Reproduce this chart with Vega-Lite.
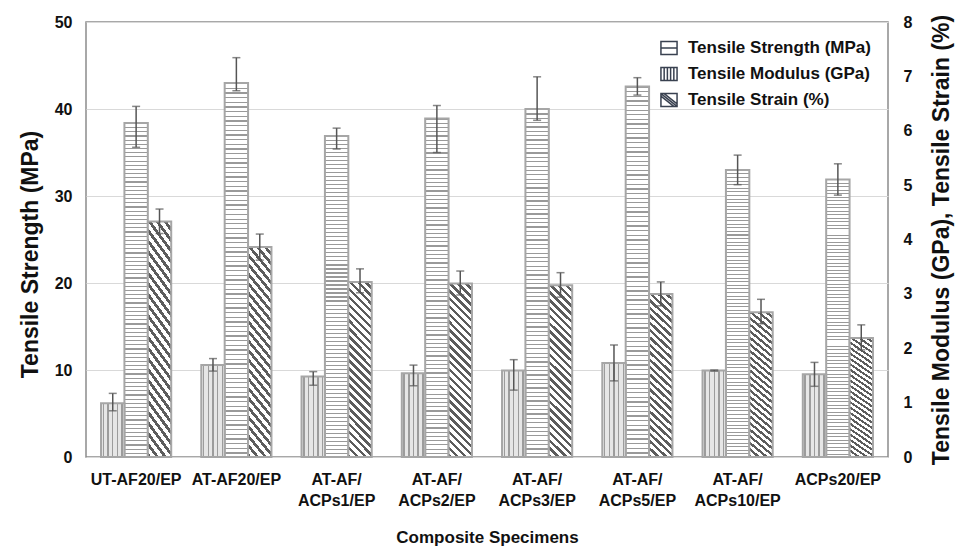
{
  "$schema": "https://vega.github.io/schema/vega-lite/v6.json",
  "width": 802,
  "height": 435,
  "autosize": {"type": "none"},
  "padding": {"left": 86, "top": 22, "right": 72, "bottom": 95},
  "background": "white",
  "config": {
    "view": {"stroke": "#8c8c8c", "strokeWidth": 1.5},
    "font": "Liberation Sans",
    "axis": {
      "labelFont": "Liberation Sans", "labelFontWeight": "bold", "labelFontSize": 16, "labelColor": "#111",
      "titleFont": "Liberation Sans", "titleFontWeight": "bold", "titleColor": "#111",
      "ticks": false, "domain": false, "gridColor": "#d9d9d9", "gridWidth": 1.2
    }
  },
  "data": {"values": [
    {"specimen": "UT-AF20/EP", "measure": "Tensile Modulus (GPa)", "value": 0.99, "lo": 0.85, "hi": 1.17},
    {"specimen": "UT-AF20/EP", "measure": "Tensile Strength (MPa)", "value": 38.4, "lo": 35.6, "hi": 40.3},
    {"specimen": "UT-AF20/EP", "measure": "Tensile Strain (%)", "value": 4.33, "lo": 4.11, "hi": 4.56},
    {"specimen": "AT-AF20/EP", "measure": "Tensile Modulus (GPa)", "value": 1.69, "lo": 1.58, "hi": 1.81},
    {"specimen": "AT-AF20/EP", "measure": "Tensile Strength (MPa)", "value": 43.0, "lo": 42.1, "hi": 45.9},
    {"specimen": "AT-AF20/EP", "measure": "Tensile Strain (%)", "value": 3.86, "lo": 3.62, "hi": 4.10},
    {"specimen": "AT-AF/ACPs1/EP", "measure": "Tensile Modulus (GPa)", "value": 1.48, "lo": 1.32, "hi": 1.57},
    {"specimen": "AT-AF/ACPs1/EP", "measure": "Tensile Strength (MPa)", "value": 36.9, "lo": 35.4, "hi": 37.8},
    {"specimen": "AT-AF/ACPs1/EP", "measure": "Tensile Strain (%)", "value": 3.22, "lo": 3.02, "hi": 3.46},
    {"specimen": "AT-AF/ACPs2/EP", "measure": "Tensile Modulus (GPa)", "value": 1.54, "lo": 1.31, "hi": 1.69},
    {"specimen": "AT-AF/ACPs2/EP", "measure": "Tensile Strength (MPa)", "value": 38.9, "lo": 35.0, "hi": 40.4},
    {"specimen": "AT-AF/ACPs2/EP", "measure": "Tensile Strain (%)", "value": 3.19, "lo": 2.98, "hi": 3.42},
    {"specimen": "AT-AF/ACPs3/EP", "measure": "Tensile Modulus (GPa)", "value": 1.59, "lo": 1.23, "hi": 1.79},
    {"specimen": "AT-AF/ACPs3/EP", "measure": "Tensile Strength (MPa)", "value": 40.0, "lo": 38.7, "hi": 43.7},
    {"specimen": "AT-AF/ACPs3/EP", "measure": "Tensile Strain (%)", "value": 3.16, "lo": 2.94, "hi": 3.39},
    {"specimen": "AT-AF/ACPs5/EP", "measure": "Tensile Modulus (GPa)", "value": 1.73, "lo": 1.40, "hi": 2.06},
    {"specimen": "AT-AF/ACPs5/EP", "measure": "Tensile Strength (MPa)", "value": 42.6, "lo": 41.6, "hi": 43.6},
    {"specimen": "AT-AF/ACPs5/EP", "measure": "Tensile Strain (%)", "value": 3.00, "lo": 2.78, "hi": 3.22},
    {"specimen": "AT-AF/ACPs10/EP", "measure": "Tensile Modulus (GPa)", "value": 1.59, "lo": 1.58, "hi": 1.60},
    {"specimen": "AT-AF/ACPs10/EP", "measure": "Tensile Strength (MPa)", "value": 33.0, "lo": 31.3, "hi": 34.7},
    {"specimen": "AT-AF/ACPs10/EP", "measure": "Tensile Strain (%)", "value": 2.66, "lo": 2.45, "hi": 2.90},
    {"specimen": "ACPs20/EP", "measure": "Tensile Modulus (GPa)", "value": 1.52, "lo": 1.30, "hi": 1.74},
    {"specimen": "ACPs20/EP", "measure": "Tensile Strength (MPa)", "value": 31.9, "lo": 30.1, "hi": 33.7},
    {"specimen": "ACPs20/EP", "measure": "Tensile Strain (%)", "value": 2.19, "lo": 1.97, "hi": 2.43}
  ]},
  "encoding": {
    "x": {
      "field": "specimen", "type": "nominal", "sort": null,
      "scale": {"type": "band", "domain": ["UT-AF20/EP", "AT-AF20/EP", "AT-AF/ACPs1/EP", "AT-AF/ACPs2/EP", "AT-AF/ACPs3/EP", "AT-AF/ACPs5/EP", "AT-AF/ACPs10/EP", "ACPs20/EP"], "paddingInner": 0.3, "paddingOuter": 0.15},
      "axis": {
        "title": "Composite Specimens", "titleFontSize": 17, "titlePadding": 21,
        "labelAngle": 0, "labelBaseline": "middle", "labelPadding": 22, "labelLineHeight": 21,
        "labelExpr": "indexof(datum.label, 'AT-AF/ACP') === 0 ? [datum.label === 'AT-AF/ACPs10/EP' ? 'AT-AF/\u00a0\u00a0\u00a0\u00a0\u00a0\u00a0\u00a0\u00a0' : 'AT-AF/\u00a0\u00a0\u00a0\u00a0\u00a0\u00a0', substring(datum.label, 6)] : datum.label"
      }
    },
    "xOffset": {
      "field": "measure", "type": "nominal", "sort": null,
      "scale": {"type": "band", "domain": ["Tensile Modulus (GPa)", "Tensile Strength (MPa)", "Tensile Strain (%)"], "paddingInner": 0, "paddingOuter": 0}
    }
  },
  "layer": [
    {
      "transform": [{"filter": "datum.measure === 'Tensile Strength (MPa)'"}],
      "layer": [
        {
          "mark": {"type": "bar", "stroke": "#a6a6a6", "strokeWidth": 2, "fill": {"gradient": "linear", "x1": 0, "y1": 0, "x2": 0, "y2": 1, "stops": [
            {"offset":0,"color":"#999"},{"offset":0.0035,"color":"#999"},{"offset":0.0035,"color":"#fff"},{"offset":0.0125,"color":"#fff"},
            {"offset":0.0125,"color":"#999"},{"offset":0.016,"color":"#999"},{"offset":0.016,"color":"#fff"},{"offset":0.025,"color":"#fff"},
            {"offset":0.025,"color":"#999"},{"offset":0.0285,"color":"#999"},{"offset":0.0285,"color":"#fff"},{"offset":0.0375,"color":"#fff"},
            {"offset":0.0375,"color":"#999"},{"offset":0.041,"color":"#999"},{"offset":0.041,"color":"#fff"},{"offset":0.05,"color":"#fff"},
            {"offset":0.05,"color":"#999"},{"offset":0.0535,"color":"#999"},{"offset":0.0535,"color":"#fff"},{"offset":0.0625,"color":"#fff"},
            {"offset":0.0625,"color":"#999"},{"offset":0.066,"color":"#999"},{"offset":0.066,"color":"#fff"},{"offset":0.075,"color":"#fff"},
            {"offset":0.075,"color":"#999"},{"offset":0.0785,"color":"#999"},{"offset":0.0785,"color":"#fff"},{"offset":0.0875,"color":"#fff"},
            {"offset":0.0875,"color":"#999"},{"offset":0.091,"color":"#999"},{"offset":0.091,"color":"#fff"},{"offset":0.1,"color":"#fff"},
            {"offset":0.1,"color":"#999"},{"offset":0.1035,"color":"#999"},{"offset":0.1035,"color":"#fff"},{"offset":0.1125,"color":"#fff"},
            {"offset":0.1125,"color":"#999"},{"offset":0.116,"color":"#999"},{"offset":0.116,"color":"#fff"},{"offset":0.125,"color":"#fff"},
            {"offset":0.125,"color":"#999"},{"offset":0.1285,"color":"#999"},{"offset":0.1285,"color":"#fff"},{"offset":0.1375,"color":"#fff"},
            {"offset":0.1375,"color":"#999"},{"offset":0.141,"color":"#999"},{"offset":0.141,"color":"#fff"},{"offset":0.15,"color":"#fff"},
            {"offset":0.15,"color":"#999"},{"offset":0.1535,"color":"#999"},{"offset":0.1535,"color":"#fff"},{"offset":0.1625,"color":"#fff"},
            {"offset":0.1625,"color":"#999"},{"offset":0.166,"color":"#999"},{"offset":0.166,"color":"#fff"},{"offset":0.175,"color":"#fff"},
            {"offset":0.175,"color":"#999"},{"offset":0.1785,"color":"#999"},{"offset":0.1785,"color":"#fff"},{"offset":0.1875,"color":"#fff"},
            {"offset":0.1875,"color":"#999"},{"offset":0.191,"color":"#999"},{"offset":0.191,"color":"#fff"},{"offset":0.2,"color":"#fff"},
            {"offset":0.2,"color":"#999"},{"offset":0.2035,"color":"#999"},{"offset":0.2035,"color":"#fff"},{"offset":0.2125,"color":"#fff"},
            {"offset":0.2125,"color":"#999"},{"offset":0.216,"color":"#999"},{"offset":0.216,"color":"#fff"},{"offset":0.225,"color":"#fff"},
            {"offset":0.225,"color":"#999"},{"offset":0.2285,"color":"#999"},{"offset":0.2285,"color":"#fff"},{"offset":0.2375,"color":"#fff"},
            {"offset":0.2375,"color":"#999"},{"offset":0.241,"color":"#999"},{"offset":0.241,"color":"#fff"},{"offset":0.25,"color":"#fff"},
            {"offset":0.25,"color":"#999"},{"offset":0.2535,"color":"#999"},{"offset":0.2535,"color":"#fff"},{"offset":0.2625,"color":"#fff"},
            {"offset":0.2625,"color":"#999"},{"offset":0.266,"color":"#999"},{"offset":0.266,"color":"#fff"},{"offset":0.275,"color":"#fff"},
            {"offset":0.275,"color":"#999"},{"offset":0.2785,"color":"#999"},{"offset":0.2785,"color":"#fff"},{"offset":0.2875,"color":"#fff"},
            {"offset":0.2875,"color":"#999"},{"offset":0.291,"color":"#999"},{"offset":0.291,"color":"#fff"},{"offset":0.3,"color":"#fff"},
            {"offset":0.3,"color":"#999"},{"offset":0.3035,"color":"#999"},{"offset":0.3035,"color":"#fff"},{"offset":0.3125,"color":"#fff"},
            {"offset":0.3125,"color":"#999"},{"offset":0.316,"color":"#999"},{"offset":0.316,"color":"#fff"},{"offset":0.325,"color":"#fff"},
            {"offset":0.325,"color":"#999"},{"offset":0.3285,"color":"#999"},{"offset":0.3285,"color":"#fff"},{"offset":0.3375,"color":"#fff"},
            {"offset":0.3375,"color":"#999"},{"offset":0.341,"color":"#999"},{"offset":0.341,"color":"#fff"},{"offset":0.35,"color":"#fff"},
            {"offset":0.35,"color":"#999"},{"offset":0.3535,"color":"#999"},{"offset":0.3535,"color":"#fff"},{"offset":0.3625,"color":"#fff"},
            {"offset":0.3625,"color":"#999"},{"offset":0.366,"color":"#999"},{"offset":0.366,"color":"#fff"},{"offset":0.375,"color":"#fff"},
            {"offset":0.375,"color":"#999"},{"offset":0.3785,"color":"#999"},{"offset":0.3785,"color":"#fff"},{"offset":0.3875,"color":"#fff"},
            {"offset":0.3875,"color":"#999"},{"offset":0.391,"color":"#999"},{"offset":0.391,"color":"#fff"},{"offset":0.4,"color":"#fff"},
            {"offset":0.4,"color":"#999"},{"offset":0.4035,"color":"#999"},{"offset":0.4035,"color":"#fff"},{"offset":0.4125,"color":"#fff"},
            {"offset":0.4125,"color":"#999"},{"offset":0.416,"color":"#999"},{"offset":0.416,"color":"#fff"},{"offset":0.425,"color":"#fff"},
            {"offset":0.425,"color":"#999"},{"offset":0.4285,"color":"#999"},{"offset":0.4285,"color":"#fff"},{"offset":0.4375,"color":"#fff"},
            {"offset":0.4375,"color":"#999"},{"offset":0.441,"color":"#999"},{"offset":0.441,"color":"#fff"},{"offset":0.45,"color":"#fff"},
            {"offset":0.45,"color":"#999"},{"offset":0.4535,"color":"#999"},{"offset":0.4535,"color":"#fff"},{"offset":0.4625,"color":"#fff"},
            {"offset":0.4625,"color":"#999"},{"offset":0.466,"color":"#999"},{"offset":0.466,"color":"#fff"},{"offset":0.475,"color":"#fff"},
            {"offset":0.475,"color":"#999"},{"offset":0.4785,"color":"#999"},{"offset":0.4785,"color":"#fff"},{"offset":0.4875,"color":"#fff"},
            {"offset":0.4875,"color":"#999"},{"offset":0.491,"color":"#999"},{"offset":0.491,"color":"#fff"},{"offset":0.5,"color":"#fff"},
            {"offset":0.5,"color":"#999"},{"offset":0.5035,"color":"#999"},{"offset":0.5035,"color":"#fff"},{"offset":0.5125,"color":"#fff"},
            {"offset":0.5125,"color":"#999"},{"offset":0.516,"color":"#999"},{"offset":0.516,"color":"#fff"},{"offset":0.525,"color":"#fff"},
            {"offset":0.525,"color":"#999"},{"offset":0.5285,"color":"#999"},{"offset":0.5285,"color":"#fff"},{"offset":0.5375,"color":"#fff"},
            {"offset":0.5375,"color":"#999"},{"offset":0.541,"color":"#999"},{"offset":0.541,"color":"#fff"},{"offset":0.55,"color":"#fff"},
            {"offset":0.55,"color":"#999"},{"offset":0.5535,"color":"#999"},{"offset":0.5535,"color":"#fff"},{"offset":0.5625,"color":"#fff"},
            {"offset":0.5625,"color":"#999"},{"offset":0.566,"color":"#999"},{"offset":0.566,"color":"#fff"},{"offset":0.575,"color":"#fff"},
            {"offset":0.575,"color":"#999"},{"offset":0.5785,"color":"#999"},{"offset":0.5785,"color":"#fff"},{"offset":0.5875,"color":"#fff"},
            {"offset":0.5875,"color":"#999"},{"offset":0.591,"color":"#999"},{"offset":0.591,"color":"#fff"},{"offset":0.6,"color":"#fff"},
            {"offset":0.6,"color":"#999"},{"offset":0.6035,"color":"#999"},{"offset":0.6035,"color":"#fff"},{"offset":0.6125,"color":"#fff"},
            {"offset":0.6125,"color":"#999"},{"offset":0.616,"color":"#999"},{"offset":0.616,"color":"#fff"},{"offset":0.625,"color":"#fff"},
            {"offset":0.625,"color":"#999"},{"offset":0.6285,"color":"#999"},{"offset":0.6285,"color":"#fff"},{"offset":0.6375,"color":"#fff"},
            {"offset":0.6375,"color":"#999"},{"offset":0.641,"color":"#999"},{"offset":0.641,"color":"#fff"},{"offset":0.65,"color":"#fff"},
            {"offset":0.65,"color":"#999"},{"offset":0.6535,"color":"#999"},{"offset":0.6535,"color":"#fff"},{"offset":0.6625,"color":"#fff"},
            {"offset":0.6625,"color":"#999"},{"offset":0.666,"color":"#999"},{"offset":0.666,"color":"#fff"},{"offset":0.675,"color":"#fff"},
            {"offset":0.675,"color":"#999"},{"offset":0.6785,"color":"#999"},{"offset":0.6785,"color":"#fff"},{"offset":0.6875,"color":"#fff"},
            {"offset":0.6875,"color":"#999"},{"offset":0.691,"color":"#999"},{"offset":0.691,"color":"#fff"},{"offset":0.7,"color":"#fff"},
            {"offset":0.7,"color":"#999"},{"offset":0.7035,"color":"#999"},{"offset":0.7035,"color":"#fff"},{"offset":0.7125,"color":"#fff"},
            {"offset":0.7125,"color":"#999"},{"offset":0.716,"color":"#999"},{"offset":0.716,"color":"#fff"},{"offset":0.725,"color":"#fff"},
            {"offset":0.725,"color":"#999"},{"offset":0.7285,"color":"#999"},{"offset":0.7285,"color":"#fff"},{"offset":0.7375,"color":"#fff"},
            {"offset":0.7375,"color":"#999"},{"offset":0.741,"color":"#999"},{"offset":0.741,"color":"#fff"},{"offset":0.75,"color":"#fff"},
            {"offset":0.75,"color":"#999"},{"offset":0.7535,"color":"#999"},{"offset":0.7535,"color":"#fff"},{"offset":0.7625,"color":"#fff"},
            {"offset":0.7625,"color":"#999"},{"offset":0.766,"color":"#999"},{"offset":0.766,"color":"#fff"},{"offset":0.775,"color":"#fff"},
            {"offset":0.775,"color":"#999"},{"offset":0.7785,"color":"#999"},{"offset":0.7785,"color":"#fff"},{"offset":0.7875,"color":"#fff"},
            {"offset":0.7875,"color":"#999"},{"offset":0.791,"color":"#999"},{"offset":0.791,"color":"#fff"},{"offset":0.8,"color":"#fff"},
            {"offset":0.8,"color":"#999"},{"offset":0.8035,"color":"#999"},{"offset":0.8035,"color":"#fff"},{"offset":0.8125,"color":"#fff"},
            {"offset":0.8125,"color":"#999"},{"offset":0.816,"color":"#999"},{"offset":0.816,"color":"#fff"},{"offset":0.825,"color":"#fff"},
            {"offset":0.825,"color":"#999"},{"offset":0.8285,"color":"#999"},{"offset":0.8285,"color":"#fff"},{"offset":0.8375,"color":"#fff"},
            {"offset":0.8375,"color":"#999"},{"offset":0.841,"color":"#999"},{"offset":0.841,"color":"#fff"},{"offset":0.85,"color":"#fff"},
            {"offset":0.85,"color":"#999"},{"offset":0.8535,"color":"#999"},{"offset":0.8535,"color":"#fff"},{"offset":0.8625,"color":"#fff"},
            {"offset":0.8625,"color":"#999"},{"offset":0.866,"color":"#999"},{"offset":0.866,"color":"#fff"},{"offset":0.875,"color":"#fff"},
            {"offset":0.875,"color":"#999"},{"offset":0.8785,"color":"#999"},{"offset":0.8785,"color":"#fff"},{"offset":0.8875,"color":"#fff"},
            {"offset":0.8875,"color":"#999"},{"offset":0.891,"color":"#999"},{"offset":0.891,"color":"#fff"},{"offset":0.9,"color":"#fff"},
            {"offset":0.9,"color":"#999"},{"offset":0.9035,"color":"#999"},{"offset":0.9035,"color":"#fff"},{"offset":0.9125,"color":"#fff"},
            {"offset":0.9125,"color":"#999"},{"offset":0.916,"color":"#999"},{"offset":0.916,"color":"#fff"},{"offset":0.925,"color":"#fff"},
            {"offset":0.925,"color":"#999"},{"offset":0.9285,"color":"#999"},{"offset":0.9285,"color":"#fff"},{"offset":0.9375,"color":"#fff"},
            {"offset":0.9375,"color":"#999"},{"offset":0.941,"color":"#999"},{"offset":0.941,"color":"#fff"},{"offset":0.95,"color":"#fff"},
            {"offset":0.95,"color":"#999"},{"offset":0.9535,"color":"#999"},{"offset":0.9535,"color":"#fff"},{"offset":0.9625,"color":"#fff"},
            {"offset":0.9625,"color":"#999"},{"offset":0.966,"color":"#999"},{"offset":0.966,"color":"#fff"},{"offset":0.975,"color":"#fff"},
            {"offset":0.975,"color":"#999"},{"offset":0.9785,"color":"#999"},{"offset":0.9785,"color":"#fff"},{"offset":0.9875,"color":"#fff"},
            {"offset":0.9875,"color":"#999"},{"offset":0.991,"color":"#999"},{"offset":0.991,"color":"#fff"},{"offset":1,"color":"#fff"}
          ]}},
          "encoding": {
            "y": {"field": "value", "type": "quantitative", "scale": {"domain": [0, 50], "nice": false},
                  "axis": {"orient": "left", "values": [0, 10, 20, 30, 40, 50], "title": "Tensile Strength (MPa)", "titleFontSize": 23, "labelPadding": 14, "titlePadding": 12, "titleY": 232, "grid": true}}
          }
        },
        {
          "mark": {"type": "rule", "color": "#555", "strokeWidth": 1.5},
          "encoding": {
            "y": {"field": "lo", "type": "quantitative", "scale": {"domain": [0, 50], "nice": false}, "title": "Tensile Strength (MPa)"},
            "y2": {"field": "hi"}
          }
        },
        {
          "mark": {"type": "tick", "color": "#555", "thickness": 1.5, "size": 8},
          "encoding": {"y": {"field": "hi", "type": "quantitative", "scale": {"domain": [0, 50], "nice": false}, "title": "Tensile Strength (MPa)"}}
        },
        {
          "mark": {"type": "tick", "color": "#555", "thickness": 1.5, "size": 8},
          "encoding": {"y": {"field": "lo", "type": "quantitative", "scale": {"domain": [0, 50], "nice": false}, "title": "Tensile Strength (MPa)"}}
        }
      ]
    },
    {
      "transform": [{"filter": "datum.measure !== 'Tensile Strength (MPa)'"}],
      "layer": [
        {
          "transform": [{"filter": "datum.measure === 'Tensile Modulus (GPa)'"}],
          "mark": {"type": "bar", "stroke": "#a6a6a6", "strokeWidth": 2, "fill": {"gradient": "linear", "x1": 0, "y1": 0, "x2": 1, "y2": 0, "stops": [
            {"offset":0,"color":"#e6e6e6"},{"offset":0.07,"color":"#e6e6e6"},{"offset":0.07,"color":"#9c9c9c"},{"offset":0.13,"color":"#9c9c9c"},{"offset":0.13,"color":"#e6e6e6"},
            {"offset":0.27,"color":"#e6e6e6"},{"offset":0.27,"color":"#9c9c9c"},{"offset":0.33,"color":"#9c9c9c"},{"offset":0.33,"color":"#e6e6e6"},
            {"offset":0.47,"color":"#e6e6e6"},{"offset":0.47,"color":"#9c9c9c"},{"offset":0.53,"color":"#9c9c9c"},{"offset":0.53,"color":"#e6e6e6"},
            {"offset":0.67,"color":"#e6e6e6"},{"offset":0.67,"color":"#9c9c9c"},{"offset":0.73,"color":"#9c9c9c"},{"offset":0.73,"color":"#e6e6e6"},
            {"offset":0.87,"color":"#e6e6e6"},{"offset":0.87,"color":"#9c9c9c"},{"offset":0.93,"color":"#9c9c9c"},{"offset":0.93,"color":"#e6e6e6"},{"offset":1,"color":"#e6e6e6"}
          ]}},
          "encoding": {
            "y": {"field": "value", "type": "quantitative", "scale": {"domain": [0, 8], "nice": false},
                  "axis": {"orient": "right", "values": [0, 1, 2, 3, 4, 5, 6, 7, 8], "title": "Tensile Modulus (GPa), Tensile Strain (%)", "titleFontSize": 23, "titleAngle": -90, "titleBaseline": "top", "labelPadding": 15, "titlePadding": 19, "grid": false}}
          }
        },
        {
          "transform": [{"filter": "datum.measure === 'Tensile Strain (%)'"}],
          "mark": {"type": "bar", "stroke": "#a6a6a6", "strokeWidth": 2, "fill": {"gradient": "linear", "x1": 0, "y1": 1, "x2": 0.1506, "y2": -0.1148, "stops": [
            {"offset":0,"color":"#5c5c5c"},{"offset":0.018,"color":"#5c5c5c"},{"offset":0.018,"color":"#fff"},{"offset":0.04,"color":"#fff"},
            {"offset":0.04,"color":"#5c5c5c"},{"offset":0.058,"color":"#5c5c5c"},{"offset":0.058,"color":"#fff"},{"offset":0.08,"color":"#fff"},
            {"offset":0.08,"color":"#5c5c5c"},{"offset":0.098,"color":"#5c5c5c"},{"offset":0.098,"color":"#fff"},{"offset":0.12,"color":"#fff"},
            {"offset":0.12,"color":"#5c5c5c"},{"offset":0.138,"color":"#5c5c5c"},{"offset":0.138,"color":"#fff"},{"offset":0.16,"color":"#fff"},
            {"offset":0.16,"color":"#5c5c5c"},{"offset":0.178,"color":"#5c5c5c"},{"offset":0.178,"color":"#fff"},{"offset":0.2,"color":"#fff"},
            {"offset":0.2,"color":"#5c5c5c"},{"offset":0.218,"color":"#5c5c5c"},{"offset":0.218,"color":"#fff"},{"offset":0.24,"color":"#fff"},
            {"offset":0.24,"color":"#5c5c5c"},{"offset":0.258,"color":"#5c5c5c"},{"offset":0.258,"color":"#fff"},{"offset":0.28,"color":"#fff"},
            {"offset":0.28,"color":"#5c5c5c"},{"offset":0.298,"color":"#5c5c5c"},{"offset":0.298,"color":"#fff"},{"offset":0.32,"color":"#fff"},
            {"offset":0.32,"color":"#5c5c5c"},{"offset":0.338,"color":"#5c5c5c"},{"offset":0.338,"color":"#fff"},{"offset":0.36,"color":"#fff"},
            {"offset":0.36,"color":"#5c5c5c"},{"offset":0.378,"color":"#5c5c5c"},{"offset":0.378,"color":"#fff"},{"offset":0.4,"color":"#fff"},
            {"offset":0.4,"color":"#5c5c5c"},{"offset":0.418,"color":"#5c5c5c"},{"offset":0.418,"color":"#fff"},{"offset":0.44,"color":"#fff"},
            {"offset":0.44,"color":"#5c5c5c"},{"offset":0.458,"color":"#5c5c5c"},{"offset":0.458,"color":"#fff"},{"offset":0.48,"color":"#fff"},
            {"offset":0.48,"color":"#5c5c5c"},{"offset":0.498,"color":"#5c5c5c"},{"offset":0.498,"color":"#fff"},{"offset":0.52,"color":"#fff"},
            {"offset":0.52,"color":"#5c5c5c"},{"offset":0.538,"color":"#5c5c5c"},{"offset":0.538,"color":"#fff"},{"offset":0.56,"color":"#fff"},
            {"offset":0.56,"color":"#5c5c5c"},{"offset":0.578,"color":"#5c5c5c"},{"offset":0.578,"color":"#fff"},{"offset":0.6,"color":"#fff"},
            {"offset":0.6,"color":"#5c5c5c"},{"offset":0.618,"color":"#5c5c5c"},{"offset":0.618,"color":"#fff"},{"offset":0.64,"color":"#fff"},
            {"offset":0.64,"color":"#5c5c5c"},{"offset":0.658,"color":"#5c5c5c"},{"offset":0.658,"color":"#fff"},{"offset":0.68,"color":"#fff"},
            {"offset":0.68,"color":"#5c5c5c"},{"offset":0.698,"color":"#5c5c5c"},{"offset":0.698,"color":"#fff"},{"offset":0.72,"color":"#fff"},
            {"offset":0.72,"color":"#5c5c5c"},{"offset":0.738,"color":"#5c5c5c"},{"offset":0.738,"color":"#fff"},{"offset":0.76,"color":"#fff"},
            {"offset":0.76,"color":"#5c5c5c"},{"offset":0.778,"color":"#5c5c5c"},{"offset":0.778,"color":"#fff"},{"offset":0.8,"color":"#fff"},
            {"offset":0.8,"color":"#5c5c5c"},{"offset":0.818,"color":"#5c5c5c"},{"offset":0.818,"color":"#fff"},{"offset":0.84,"color":"#fff"},
            {"offset":0.84,"color":"#5c5c5c"},{"offset":0.858,"color":"#5c5c5c"},{"offset":0.858,"color":"#fff"},{"offset":0.88,"color":"#fff"},
            {"offset":0.88,"color":"#5c5c5c"},{"offset":0.898,"color":"#5c5c5c"},{"offset":0.898,"color":"#fff"},{"offset":0.92,"color":"#fff"},
            {"offset":0.92,"color":"#5c5c5c"},{"offset":0.938,"color":"#5c5c5c"},{"offset":0.938,"color":"#fff"},{"offset":0.96,"color":"#fff"},
            {"offset":0.96,"color":"#5c5c5c"},{"offset":0.978,"color":"#5c5c5c"},{"offset":0.978,"color":"#fff"},{"offset":1,"color":"#fff"}
          ]}},
          "encoding": {
            "y": {"field": "value", "type": "quantitative", "scale": {"domain": [0, 8], "nice": false}, "title": "Tensile Modulus (GPa), Tensile Strain (%)"}
          }
        },
        {
          "mark": {"type": "rule", "color": "#555", "strokeWidth": 1.5},
          "encoding": {
            "y": {"field": "lo", "type": "quantitative", "scale": {"domain": [0, 8], "nice": false}, "title": "Tensile Modulus (GPa), Tensile Strain (%)"},
            "y2": {"field": "hi"}
          }
        },
        {
          "mark": {"type": "tick", "color": "#555", "thickness": 1.5, "size": 8},
          "encoding": {"y": {"field": "hi", "type": "quantitative", "scale": {"domain": [0, 8], "nice": false}, "title": "Tensile Modulus (GPa), Tensile Strain (%)"}}
        },
        {
          "mark": {"type": "tick", "color": "#555", "thickness": 1.5, "size": 8},
          "encoding": {"y": {"field": "lo", "type": "quantitative", "scale": {"domain": [0, 8], "nice": false}, "title": "Tensile Modulus (GPa), Tensile Strain (%)"}}
        }
      ]
    },
    {
      "transform": [{"filter": "false"}],
      "mark": {"type": "point", "filled": false, "color": "#394150", "fill": "#fff", "stroke": "#394150", "strokeWidth": 1.5, "opacity": 1},
      "encoding": {
        "shape": {
          "field": "measure", "type": "nominal",
          "scale": {
            "domain": ["Tensile Strength (MPa)", "Tensile Modulus (GPa)", "Tensile Strain (%)"],
            "range": [
              "M-1,-0.8H1V0.8H-1ZM-1,0H1",
              "M-1,-0.8H1V0.8H-1ZM-0.6,-0.8V0.8M-0.2,-0.8V0.8M0.2,-0.8V0.8M0.6,-0.8V0.8",
              "M-1,-0.8H1V0.8H-1ZM-1,-0.8L1,0.8M-0.6,-0.8L1,0.48M-1,-0.48L0.6,0.8"
            ]
          },
          "legend": {
            "title": null, "orient": "top-right", "offset": 17, "padding": 0,
            "symbolSize": 260, "symbolStrokeWidth": 1.5, "symbolOpacity": 1,
            "labelFont": "Liberation Sans", "labelFontWeight": "bold", "labelFontSize": 17, "labelColor": "#111", "labelLimit": 400,
            "labelOffset": 10, "rowPadding": 6
          }
        }
      }
    }
  ],
  "resolve": {"scale": {"y": "independent"}}
}
